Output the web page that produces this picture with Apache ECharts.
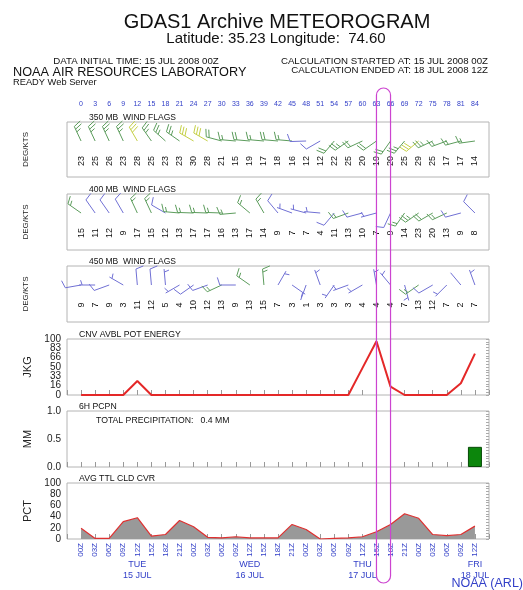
<!DOCTYPE html>
<html>
<head>
<meta charset="utf-8">
<script src="https://cdn.jsdelivr.net/npm/echarts@6/dist/echarts.min.js"></script>
<style>
html,body{margin:0;padding:0;background:#fff}
#chart{width:523px;height:590px}
</style>
</head>
<body>
<div id="chart"></div>
<script>
// Forecast hours (every 3 h from the initial time)
const hours = [0,3,6,9,12,15,18,21,24,27,30,33,36,39,42,45,48,51,54,57,60,63,66,69,72,75,78,81,84];
const hourLabels = ['00Z','03Z','06Z','09Z','12Z','15Z','18Z','21Z','00Z','03Z','06Z','09Z','12Z','15Z','18Z','21Z',
                    '00Z','03Z','06Z','09Z','12Z','15Z','18Z','21Z','00Z','03Z','06Z','09Z','12Z'];

// Wind at 350 mb: speed (kt) and direction (deg, from)
const spd350 = [23,25,26,23,28,25,23,23,30,28,21,15,19,17,18,16,12,12,22,25,20,19,20,25,29,25,17,17,14];
const dir350 = [335,335,335,335,330,325,312,305,300,300,285,275,275,275,275,275,268,240,220,235,245,235,215,220,230,245,250,255,262];
// Wind at 400 mb
const spd400 = [15,11,12,9,17,15,12,13,17,17,16,13,17,14,9,7,7,4,11,13,10,7,9,14,23,20,13,9,8];
const dir400 = [305,325,325,330,335,335,300,275,272,272,272,265,310,330,320,290,285,275,220,250,255,255,205,215,235,240,245,255,315];
// Wind at 450 mb
const spd450 = [9,7,9,3,11,12,5,4,10,12,13,9,13,15,7,3,1,3,3,3,4,4,4,7,13,12,7,2,7];
const dir450 = [260,270,250,300,355,355,355,240,235,250,245,270,305,355,30,125,200,340,215,250,240,350,320,165,235,240,225,320,340];

// Convective available potential energy (J/kg)
const cape = [0,0,0,0,25,0,0,0,0,0,0,0,0,0,0,0,0,0,0,0,48,96,15,0,0,0,0,21,74];
const capeTickLabels = ['0','16','33','50','66','83','100'];
// 6-hour precipitation (mm)
const pcpn = [0,0,0,0,0,0,0,0,0,0,0,0,0,0,0,0,0,0,0,0,0,0,0,0,0,0,0,0,0.36];
// Average total cloud cover (%)
const cloud = [19,1,1,31,38,5,8,33,22,3,2,4,2,2,2,26,17,0,1,2,4,13,26,45,37,8,6,8,23];

// Day annotations under the time axis
const dayHours = [12,36,60,84];
const dayNames = ['TUE','WED','THU','FRI'];
const dayDates = ['15 JUL','16 JUL','17 JUL','18 JUL'];

// Highlighted time window
const markHours = [63,66];

const FONT = 'Liberation Sans, Arial, sans-serif';
const BLUE = '#3340c8';
const BORDER = '#b4b4b4';

const chart = echarts.init(document.getElementById('chart'), null, {renderer:'canvas'});

const gridTops = [122,194,266,339,411,483];
const gridHeights = [55,56,56,56,56,56];
const grids = gridTops.map((t,i)=>({left:67,width:422,top:t,height:gridHeights[i],show:true,
  borderColor:BORDER,borderWidth:1,backgroundColor:'transparent'}));

const X_MIN = -3, X_MAX = 87;
function baseX(i){
  return {type:'value',gridIndex:i,min:X_MIN,max:X_MAX,interval:3,
    axisLine:{show:false},splitLine:{show:false},axisLabel:{show:false},
    axisTick:{show:false}};
}
const xAxes = [0,1,2,3,4,5].map(baseX);
xAxes[0].position = 'top';
xAxes[0].axisLabel = {show:true,margin:14,fontSize:7,color:BLUE,fontFamily:FONT,
  formatter:v=>hours.indexOf(v)>=0?String(v):''};
[3,4,5].forEach(i=>{ xAxes[i].axisTick = {show:true,inside:true,length:5,lineStyle:{color:'#999'}}; });
xAxes[5].axisLabel = {show:true,rotate:90,margin:4,fontSize:8,color:BLUE,fontFamily:FONT,
  formatter:v=>{const k=hours.indexOf(v);return k>=0?hourLabels[k]:'';}};

function windY(i){
  return {type:'value',gridIndex:i,min:0,max:1,axisLine:{show:false},axisTick:{show:false},
    axisLabel:{show:false},splitLine:{show:false},name:'DEG/KTS',nameLocation:'middle',nameGap:37,
    nameTextStyle:{fontSize:8,color:'#222',fontFamily:FONT}};
}
const labelStyle = {fontSize:10,color:'#222',fontFamily:FONT,margin:6,showMinLabel:true,showMaxLabel:true};
const capeStep = 100/(capeTickLabels.length-1);
const yAxes = [windY(0),windY(1),windY(2),
  // CAPE tick labels are placed by a custom series below (they sit closer than the auto layout allows)
  {type:'value',gridIndex:3,min:0,max:100,interval:capeStep,axisLine:{show:false},axisTick:{show:false},
    splitLine:{show:false},axisLabel:{show:false},
    name:'JKG',nameLocation:'middle',nameGap:34,nameTextStyle:{fontSize:11,color:'#222',fontFamily:FONT}},
  {type:'value',gridIndex:4,min:0,max:1,interval:0.5,axisLine:{show:false},axisTick:{show:false},
    splitLine:{show:false},axisLabel:Object.assign({},labelStyle,{formatter:v=>v.toFixed(1)}),
    name:'MM',nameLocation:'middle',nameGap:34,nameTextStyle:{fontSize:11,color:'#222',fontFamily:FONT}},
  {type:'value',gridIndex:5,min:0,max:100,interval:20,axisLine:{show:false},axisTick:{show:false},
    splitLine:{show:false},axisLabel:Object.assign({},labelStyle),
    name:'PCT',nameLocation:'middle',nameGap:34,nameTextStyle:{fontSize:11,color:'#222',fontFamily:FONT}}
];
// fine ticks along the right edge of the lower panels
[[3,100,5],[4,1,0.05],[5,100,5]].forEach(([g,mx,iv])=>{
  yAxes.push({type:'value',gridIndex:g,position:'right',min:0,max:mx,interval:iv,
    axisLine:{show:false},axisLabel:{show:false},splitLine:{show:false},
    axisTick:{show:true,inside:true,length:3,lineStyle:{color:'#aaa'}}});
});

function barbColor(s){ return s>=28 ? '#c4cf45' : (s>=13 ? '#5c9c5c' : '#7070d4'); }

function renderBarb(params, api){
  const h = api.value(0), s = api.value(1), d = api.value(2);
  const top = api.coord([h,1]);
  const px = top[0], py = top[1] + 19;
  const rad = d*Math.PI/180;
  const ux = Math.sin(rad), uy = -Math.cos(rad);
  const staff = 16;
  const tx = px + ux*staff, ty = py + uy*staff;
  const a = 72*Math.PI/180;
  const fx = ux*Math.cos(a) - uy*Math.sin(a), fy = ux*Math.sin(a) + uy*Math.cos(a);
  const color = barbColor(s);
  const st = {stroke:color,lineWidth:1};
  const children = [{type:'line',shape:{x1:px,y1:py,x2:tx,y2:ty},style:st}];
  let r = Math.round(s/5)*5;
  const n50 = Math.floor(r/50); r -= n50*50;
  const n10 = Math.floor(r/10); r -= n10*10;
  const n5 = r>=5 ? 1 : 0;
  let pos = (n50===0 && n10===0 && n5===1) ? 3 : 0;
  for (let k=0;k<n50;k++){
    const bx = tx-ux*pos, by = ty-uy*pos;
    children.push({type:'polygon',shape:{points:[[bx,by],[bx+fx*8,by+fy*8],[bx-ux*4,by-uy*4]]},style:{fill:color}});
    pos += 5;
  }
  for (let k=0;k<n10;k++){
    const bx = tx-ux*pos, by = ty-uy*pos;
    children.push({type:'line',shape:{x1:bx,y1:by,x2:bx+fx*8,y2:by+fy*8},style:st});
    pos += 3;
  }
  if (n5){
    const bx = tx-ux*pos, by = ty-uy*pos;
    children.push({type:'line',shape:{x1:bx,y1:by,x2:bx+fx*5,y2:by+fy*5},style:st});
  }
  children.push({type:'text',x:px,y:top[1]+39,rotation:Math.PI/2,
    style:{text:String(s),font:'9px '+FONT,fill:'#111',textAlign:'center',textVerticalAlign:'middle',
      align:'center',verticalAlign:'middle'}});
  return {type:'group',children};
}

function windSeries(i, spd, dir){
  return {type:'custom',coordinateSystem:'cartesian2d',xAxisIndex:i,yAxisIndex:i,
    dimensions:['hour','speed','dir'],encode:{x:0,y:-1},
    data:hours.map((h,k)=>[h,spd[k],dir[k]]),renderItem:renderBarb,clip:false};
}

const totalPcpn = pcpn.reduce((a,b)=>a+b,0);

const series = [
  windSeries(0,spd350,dir350),
  windSeries(1,spd400,dir400),
  windSeries(2,spd450,dir450),
  {type:'line',xAxisIndex:3,yAxisIndex:3,data:hours.map((h,k)=>[h,cape[k]]),symbol:'none',
    lineStyle:{color:'#e42828',width:2}},
  // CAPE axis labels at sixths of the range
  {type:'custom',coordinateSystem:'cartesian2d',xAxisIndex:3,yAxisIndex:3,clip:false,silent:true,
    data:capeTickLabels.map((t,i)=>[X_MIN,i*capeStep,i]),encode:{x:0,y:1},
    renderItem:(params,api)=>{
      const p = api.coord([api.value(0),api.value(1)]);
      return {type:'text',x:p[0]-6,y:p[1],style:{text:capeTickLabels[api.value(2)],font:'10px '+FONT,fill:'#222',
        textAlign:'right',textVerticalAlign:'middle',align:'right',verticalAlign:'middle'}};
    }},
  {type:'bar',xAxisIndex:4,yAxisIndex:4,barWidth:14,
    data:hours.map((h,k)=>[h,pcpn[k]]).filter(p=>p[1]>0),
    itemStyle:{color:'#0c860c',borderColor:'#064a06',borderWidth:1}},
  {type:'line',xAxisIndex:5,yAxisIndex:5,data:hours.map((h,k)=>[h,cloud[k]]),symbol:'none',
    lineStyle:{color:'#e03030',width:1.2},areaStyle:{color:'#999999',opacity:1}},
  {type:'custom',coordinateSystem:'cartesian2d',xAxisIndex:5,yAxisIndex:5,clip:false,
    data:dayHours.map((h,k)=>[h,0,k]),encode:{x:0,y:1},
    renderItem:(params,api)=>{
      const p = api.coord([api.value(0),0]);
      const k = api.value(2);
      const s = {font:'9px '+FONT,fill:BLUE,textAlign:'center',textVerticalAlign:'middle',align:'center',verticalAlign:'middle'};
      return {type:'group',children:[
        {type:'text',x:p[0],y:p[1]+26,style:Object.assign({text:dayNames[k]},s)},
        {type:'text',x:p[0],y:p[1]+37,style:Object.assign({text:dayDates[k]},s)}
      ]};
    }}
];

function txt(x,y,text,size,opts){
  return Object.assign({type:'text',x:x,y:y,z:10,silent:true,
    style:Object.assign({text:text,font:size+'px '+FONT,fill:'#111',textAlign:'left',textVerticalAlign:'middle',
      align:'left',verticalAlign:'middle'},opts||{})});
}

chart.setOption({
  animation:false,
  grid:grids,xAxis:xAxes,yAxis:yAxes,series:series
});

const mx0 = chart.convertToPixel({xAxisIndex:0}, markHours[0]);
const mx1 = chart.convertToPixel({xAxisIndex:0}, markHours[1]);

const texts = [
  txt(277,22,'GDAS1 Archive METEOROGRAM',20,{textAlign:'center',align:'center'}),
  txt(276,39,'Latitude: 35.23 Longitude:  74.60',15,{textAlign:'center',align:'center'}),
  txt(136,61,'DATA INITIAL TIME: 15 JUL 2008 00Z',9.7,{textAlign:'center',align:'center'}),
  txt(13,72,'NOAA AIR RESOURCES LABORATORY',12.7),
  txt(13,82,'READY Web Server',9.3),
  txt(488,61,'CALCULATION STARTED AT: 15 JUL 2008 00Z',9.7,{textAlign:'right',align:'right'}),
  txt(488,70,'CALCULATION ENDED AT: 18 JUL 2008 12Z',9.7,{textAlign:'right',align:'right'}),
  txt(89,118,'350 MB  WIND FLAGS',8.5),
  txt(89,190,'400 MB  WIND FLAGS',8.5),
  txt(89,262,'450 MB  WIND FLAGS',8.5),
  txt(79,335,'CNV AVBL POT ENERGY',8.7),
  txt(79,407,'6H PCPN',8.7),
  txt(96,421,'TOTAL PRECIPITATION:   '+totalPcpn.toFixed(1)+' MM',8.7),
  txt(79,479,'AVG TTL CLD CVR',8.7),
  txt(523,584,'NOAA (ARL)',12.5,{fill:BLUE,textAlign:'right',align:'right'}),
  {type:'rect',z:20,silent:true,shape:{x:mx0,y:88,width:mx1-mx0,height:495,r:8},
    style:{fill:'none',stroke:'#cc44d0',lineWidth:1.2}}
];
chart.setOption({graphic:texts});
</script>
</body>
</html>
